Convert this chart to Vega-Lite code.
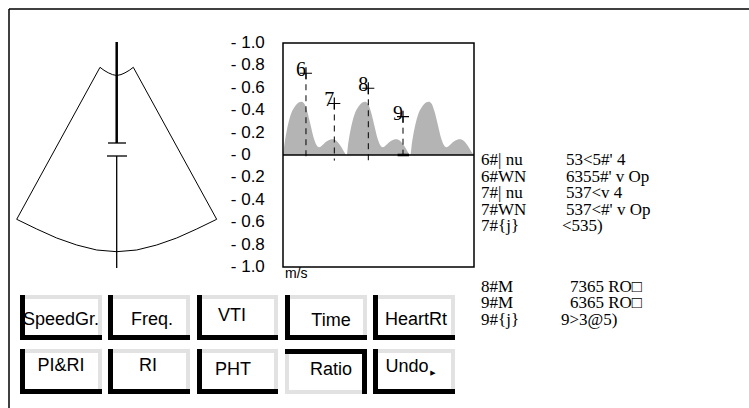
{
  "$schema": "https://vega.github.io/schema/vega-lite/v6.json",
  "width": 749,
  "height": 408,
  "autosize": {"type": "fit", "contains": "padding"},
  "padding": 0,
  "background": "white",
  "config": {"view": {"stroke": null}, "font": "Liberation Sans"},
  "datasets": {
    "frame": [{"x": 9, "y": 9, "x2": 749, "y2": 9}, {"x": 9, "y": 9, "x2": 9, "y2": 408}],
    "fan": [
      {"o": 1, "x": 100, "y": 67.3}, {"o": 2, "x": 104, "y": 70.3}, {"o": 3, "x": 108.3, "y": 72.8}, {"o": 4, "x": 112.5, "y": 74.6}, {"o": 5, "x": 116.7, "y": 75.5}, {"o": 6, "x": 121, "y": 74.6}, {"o": 7, "x": 125, "y": 72.8}, {"o": 8, "x": 129.3, "y": 70.3}, {"o": 9, "x": 133.3, "y": 67.3},
      {"o": 10, "x": 216.7, "y": 219.3}, {"o": 11, "x": 196.7, "y": 229}, {"o": 12, "x": 176.7, "y": 238}, {"o": 13, "x": 156.7, "y": 245}, {"o": 14, "x": 136.7, "y": 250}, {"o": 15, "x": 116.7, "y": 251.7}, {"o": 16, "x": 96.7, "y": 250}, {"o": 17, "x": 76.7, "y": 245}, {"o": 18, "x": 56.7, "y": 238}, {"o": 19, "x": 36.7, "y": 229}, {"o": 20, "x": 16.7, "y": 219.3}, {"o": 21, "x": 100, "y": 67.3}
    ],
    "probeThick": [{"x": 116.7, "y": 42, "x2": 116.7, "y2": 143}],
    "probeThin": [{"x": 116.7, "y": 156, "x2": 116.7, "y2": 268}, {"x": 108, "y": 143, "x2": 126, "y2": 143}, {"x": 107, "y": 156, "x2": 127, "y2": 156}],
    "btnGray": [
      {"x": 20, "x2": 102, "y": 295, "y2": 340}, {"x": 108, "x2": 190, "y": 295, "y2": 340}, {"x": 197, "x2": 278, "y": 295, "y2": 340}, {"x": 285, "x2": 367, "y": 295, "y2": 340}, {"x": 373, "x2": 455, "y": 295, "y2": 340},
      {"x": 20, "x2": 102, "y": 349, "y2": 394}, {"x": 108, "x2": 190, "y": 349, "y2": 394}, {"x": 197, "x2": 278, "y": 349, "y2": 394}, {"x": 285, "x2": 367, "y": 349, "y2": 394}, {"x": 373, "x2": 455, "y": 349, "y2": 394}
    ],
    "btnBlack": [
      {"x": 20, "x2": 25, "y": 295, "y2": 340}, {"x": 20, "x2": 102, "y": 335, "y2": 340},
      {"x": 108, "x2": 113, "y": 295, "y2": 340}, {"x": 108, "x2": 190, "y": 335, "y2": 340},
      {"x": 197, "x2": 202, "y": 295, "y2": 340}, {"x": 197, "x2": 278, "y": 335, "y2": 340},
      {"x": 285, "x2": 290, "y": 295, "y2": 340}, {"x": 285, "x2": 367, "y": 335, "y2": 340},
      {"x": 373, "x2": 378, "y": 295, "y2": 340}, {"x": 373, "x2": 455, "y": 335, "y2": 340},
      {"x": 20, "x2": 25, "y": 349, "y2": 394}, {"x": 20, "x2": 102, "y": 389, "y2": 394},
      {"x": 108, "x2": 113, "y": 349, "y2": 394}, {"x": 108, "x2": 190, "y": 389, "y2": 394},
      {"x": 197, "x2": 202, "y": 349, "y2": 394}, {"x": 197, "x2": 278, "y": 389, "y2": 394},
      {"x": 285, "x2": 367, "y": 349, "y2": 354}, {"x": 362, "x2": 367, "y": 349, "y2": 394},
      {"x": 373, "x2": 378, "y": 349, "y2": 394}, {"x": 373, "x2": 455, "y": 389, "y2": 394}
    ],
    "btnWhite": [
      {"x": 25, "x2": 98, "y": 299, "y2": 335}, {"x": 113, "x2": 186, "y": 299, "y2": 335}, {"x": 202, "x2": 274, "y": 299, "y2": 335}, {"x": 290, "x2": 363, "y": 299, "y2": 335}, {"x": 378, "x2": 451, "y": 299, "y2": 335},
      {"x": 25, "x2": 98, "y": 353, "y2": 389}, {"x": 113, "x2": 186, "y": 353, "y2": 389}, {"x": 202, "x2": 274, "y": 353, "y2": 389}, {"x": 289, "x2": 362, "y": 354, "y2": 390}, {"x": 378, "x2": 451, "y": 353, "y2": 389}
    ],
    "btnLabels": [
      {"x": 61, "y": 320, "label": "SpeedGr."}, {"x": 152, "y": 320, "label": "Freq."}, {"x": 232, "y": 316, "label": "VTI"}, {"x": 331, "y": 321, "label": "Time"}, {"x": 416, "y": 320, "label": "HeartRt"},
      {"x": 61, "y": 366, "label": "PI&RI"}, {"x": 148, "y": 366, "label": "RI"}, {"x": 233, "y": 370, "label": "PHT"}, {"x": 331, "y": 370, "label": "Ratio"}, {"x": 407, "y": 367, "label": "Undo"}
    ],
    "arrow": [{"x": 433, "y": 373, "label": "▶"}],
    "report": [
      {"x": 481, "y": 160, "label": "6#| nu"}, {"x": 566, "y": 160, "label": "53<5#' 4"},
      {"x": 481, "y": 177, "label": "6#WN"}, {"x": 566, "y": 177, "label": "6355#' v Op"},
      {"x": 481, "y": 193, "label": "7#| nu"}, {"x": 566, "y": 193, "label": "537<v 4"},
      {"x": 481, "y": 210, "label": "7#WN"}, {"x": 566, "y": 210, "label": "537<#' v Op"},
      {"x": 481, "y": 226, "label": "7#{j}"}, {"x": 562, "y": 226, "label": "<535)"},
      {"x": 481, "y": 287, "label": "8#M"}, {"x": 570, "y": 287, "label": "7365 RO□"},
      {"x": 481, "y": 303, "label": "9#M"}, {"x": 570, "y": 303, "label": "6365 RO□"},
      {"x": 481, "y": 320, "label": "9#{j}"}, {"x": 561, "y": 320, "label": "9>3@5)"}
    ],
    "wave": [
      {"t": 0, "v": 0}, {"t": 0.026, "v": 0.11}, {"t": 0.063, "v": 0.23}, {"t": 0.116, "v": 0.35}, {"t": 0.184, "v": 0.43}, {"t": 0.253, "v": 0.47}, {"t": 0.289, "v": 0.475}, {"t": 0.332, "v": 0.46}, {"t": 0.379, "v": 0.39}, {"t": 0.432, "v": 0.27}, {"t": 0.484, "v": 0.15}, {"t": 0.526, "v": 0.09}, {"t": 0.568, "v": 0.07}, {"t": 0.621, "v": 0.09}, {"t": 0.695, "v": 0.125}, {"t": 0.779, "v": 0.14}, {"t": 0.842, "v": 0.125}, {"t": 0.905, "v": 0.08}, {"t": 0.958, "v": 0.03},
      {"t": 1, "v": 0}, {"t": 1.026, "v": 0.11}, {"t": 1.063, "v": 0.23}, {"t": 1.116, "v": 0.35}, {"t": 1.184, "v": 0.43}, {"t": 1.253, "v": 0.47}, {"t": 1.289, "v": 0.475}, {"t": 1.332, "v": 0.46}, {"t": 1.379, "v": 0.39}, {"t": 1.432, "v": 0.27}, {"t": 1.484, "v": 0.15}, {"t": 1.526, "v": 0.09}, {"t": 1.568, "v": 0.07}, {"t": 1.621, "v": 0.09}, {"t": 1.695, "v": 0.125}, {"t": 1.779, "v": 0.14}, {"t": 1.842, "v": 0.125}, {"t": 1.905, "v": 0.08}, {"t": 1.958, "v": 0.03},
      {"t": 2, "v": 0}, {"t": 2.026, "v": 0.11}, {"t": 2.063, "v": 0.23}, {"t": 2.116, "v": 0.35}, {"t": 2.184, "v": 0.43}, {"t": 2.253, "v": 0.47}, {"t": 2.289, "v": 0.475}, {"t": 2.332, "v": 0.46}, {"t": 2.379, "v": 0.39}, {"t": 2.432, "v": 0.27}, {"t": 2.484, "v": 0.15}, {"t": 2.526, "v": 0.09}, {"t": 2.568, "v": 0.07}, {"t": 2.621, "v": 0.09}, {"t": 2.695, "v": 0.125}, {"t": 2.779, "v": 0.14}, {"t": 2.842, "v": 0.125}, {"t": 2.905, "v": 0.08}, {"t": 2.958, "v": 0.03}, {"t": 3, "v": 0}
    ],
    "box": [{"t": 0, "t2": 3, "v": -1, "v2": 1}],
    "zero": [{"t": 0, "t2": 3, "v": 0}],
    "zeroMark": [{"t": 1.80, "t2": 1.98, "v": 0}],
    "markers": [
      {"id": "6", "t": 0.361, "v": 0.73, "vEnd": -0.05},
      {"id": "7", "t": 0.806, "v": 0.46, "vEnd": -0.05},
      {"id": "8", "t": 1.34, "v": 0.596, "vEnd": -0.06},
      {"id": "9", "t": 1.885, "v": 0.342, "vEnd": 0}
    ],
    "ticks": [
      {"v": 1, "label": "- 1.0"}, {"v": 0.8, "label": "- 0.8"}, {"v": 0.6, "label": "- 0.6"}, {"v": 0.4, "label": "- 0.4"}, {"v": 0.2, "label": "- 0.2"}, {"v": 0, "label": "- 0"},
      {"v": -0.2, "label": "- 0.2"}, {"v": -0.4, "label": "- 0.4"}, {"v": -0.6, "label": "- 0.6"}, {"v": -0.8, "label": "- 0.8"}, {"v": -1, "label": "- 1.0"}
    ],
    "unit": [{"t": 0, "v": -1, "label": "m/s"}]
  },
  "resolve": {"scale": {"x": "independent", "y": "independent"}},
  "layer": [
    {
      "layer": [
        {
          "data": {"name": "frame"},
          "mark": {"type": "rule", "stroke": "black", "strokeWidth": 1.5},
          "encoding": {
            "x": {"field": "x", "type": "quantitative", "scale": {"domain": [0, 749], "range": [0, 749], "nice": false, "zero": false}, "axis": null},
            "y": {"field": "y", "type": "quantitative", "scale": {"domain": [0, 408], "range": [0, 408], "nice": false, "zero": false}, "axis": null},
            "x2": {"field": "x2"}, "y2": {"field": "y2"}
          }
        },
        {
          "data": {"name": "fan"},
          "mark": {"type": "line", "stroke": "black", "strokeWidth": 1},
          "encoding": {
            "x": {"field": "x", "type": "quantitative", "axis": null},
            "y": {"field": "y", "type": "quantitative", "axis": null},
            "order": {"field": "o", "type": "quantitative"}
          }
        },
        {
          "data": {"name": "probeThick"},
          "mark": {"type": "rule", "stroke": "black", "strokeWidth": 2.5},
          "encoding": {
            "x": {"field": "x", "type": "quantitative", "axis": null}, "y": {"field": "y", "type": "quantitative", "axis": null},
            "x2": {"field": "x2"}, "y2": {"field": "y2"}
          }
        },
        {
          "data": {"name": "probeThin"},
          "mark": {"type": "rule", "stroke": "black", "strokeWidth": 1.3},
          "encoding": {
            "x": {"field": "x", "type": "quantitative", "axis": null}, "y": {"field": "y", "type": "quantitative", "axis": null},
            "x2": {"field": "x2"}, "y2": {"field": "y2"}
          }
        },
        {
          "data": {"name": "btnGray"},
          "mark": {"type": "rect", "fill": "#e2e2e2"},
          "encoding": {
            "x": {"field": "x", "type": "quantitative", "axis": null}, "y": {"field": "y", "type": "quantitative", "axis": null},
            "x2": {"field": "x2"}, "y2": {"field": "y2"}
          }
        },
        {
          "data": {"name": "btnBlack"},
          "mark": {"type": "rect", "fill": "black"},
          "encoding": {
            "x": {"field": "x", "type": "quantitative", "axis": null}, "y": {"field": "y", "type": "quantitative", "axis": null},
            "x2": {"field": "x2"}, "y2": {"field": "y2"}
          }
        },
        {
          "data": {"name": "btnWhite"},
          "mark": {"type": "rect", "fill": "white"},
          "encoding": {
            "x": {"field": "x", "type": "quantitative", "axis": null}, "y": {"field": "y", "type": "quantitative", "axis": null},
            "x2": {"field": "x2"}, "y2": {"field": "y2"}
          }
        },
        {
          "data": {"name": "btnLabels"},
          "mark": {"type": "text", "font": "Liberation Sans", "fontSize": 18, "fill": "black", "align": "center", "baseline": "middle"},
          "encoding": {
            "x": {"field": "x", "type": "quantitative", "axis": null}, "y": {"field": "y", "type": "quantitative", "axis": null},
            "text": {"field": "label"}
          }
        },
        {
          "data": {"name": "arrow"},
          "mark": {"type": "text", "font": "DejaVu Sans", "fontSize": 7, "fill": "black", "align": "center", "baseline": "middle"},
          "encoding": {
            "x": {"field": "x", "type": "quantitative", "axis": null}, "y": {"field": "y", "type": "quantitative", "axis": null},
            "text": {"field": "label"}
          }
        },
        {
          "data": {"name": "report"},
          "mark": {"type": "text", "font": "Liberation Serif", "fontSize": 17, "fill": "black", "align": "left", "baseline": "middle"},
          "encoding": {
            "x": {"field": "x", "type": "quantitative", "axis": null}, "y": {"field": "y", "type": "quantitative", "axis": null},
            "text": {"field": "label"}
          }
        }
      ]
    },
    {
      "layer": [
        {
          "data": {"name": "wave"},
          "mark": {"type": "area", "fill": "#b4b4b4", "interpolate": "monotone"},
          "encoding": {
            "x": {"field": "t", "type": "quantitative", "scale": {"domain": [0, 3], "range": [283, 474], "nice": false, "zero": false}, "axis": null},
            "y": {"field": "v", "type": "quantitative", "scale": {"domain": [-1, 1], "range": [267, 43], "nice": false, "zero": false}, "axis": null},
            "y2": {"datum": 0}
          }
        },
        {
          "data": {"name": "box"},
          "mark": {"type": "rect", "filled": false, "stroke": "black", "strokeWidth": 1.5},
          "encoding": {
            "x": {"field": "t", "type": "quantitative", "axis": null}, "x2": {"field": "t2"},
            "y": {"field": "v", "type": "quantitative", "axis": null}, "y2": {"field": "v2"}
          }
        },
        {
          "data": {"name": "zero"},
          "mark": {"type": "rule", "stroke": "black", "strokeWidth": 1.5},
          "encoding": {
            "x": {"field": "t", "type": "quantitative", "axis": null}, "x2": {"field": "t2"},
            "y": {"field": "v", "type": "quantitative", "axis": null}
          }
        },
        {
          "data": {"name": "zeroMark"},
          "mark": {"type": "rule", "stroke": "black", "strokeWidth": 2.5},
          "encoding": {
            "x": {"field": "t", "type": "quantitative", "axis": null}, "x2": {"field": "t2"},
            "y": {"field": "v", "type": "quantitative", "axis": null}
          }
        },
        {
          "data": {"name": "markers"},
          "mark": {"type": "rule", "stroke": "black", "strokeWidth": 1, "strokeDash": [6, 5]},
          "encoding": {
            "x": {"field": "t", "type": "quantitative", "axis": null},
            "y": {"field": "v", "type": "quantitative", "axis": null}, "y2": {"field": "vEnd"}
          }
        },
        {
          "data": {"name": "markers"},
          "mark": {"type": "point", "shape": "M-1,0L1,0M0,-1L0,1", "size": 144, "filled": false, "stroke": "black", "strokeWidth": 1.2, "opacity": 1},
          "encoding": {
            "x": {"field": "t", "type": "quantitative", "axis": null},
            "y": {"field": "v", "type": "quantitative", "axis": null}
          }
        },
        {
          "data": {"name": "markers"},
          "mark": {"type": "text", "font": "Liberation Serif", "fontSize": 20, "fill": "black", "align": "right", "baseline": "middle", "dx": 0, "dy": -3},
          "encoding": {
            "x": {"field": "t", "type": "quantitative", "axis": null},
            "y": {"field": "v", "type": "quantitative", "axis": null},
            "text": {"field": "id"}
          }
        },
        {
          "data": {"name": "ticks"},
          "mark": {"type": "text", "font": "Liberation Sans", "fontSize": 17, "fill": "black", "align": "left", "baseline": "middle"},
          "encoding": {
            "x": {"datum": -0.82, "type": "quantitative", "axis": null},
            "y": {"field": "v", "type": "quantitative", "axis": null},
            "text": {"field": "label"}
          }
        },
        {
          "data": {"name": "unit"},
          "mark": {"type": "text", "font": "Liberation Sans", "fontSize": 14, "fill": "black", "align": "left", "baseline": "top", "dx": 2, "dy": 0},
          "encoding": {
            "x": {"field": "t", "type": "quantitative", "axis": null},
            "y": {"field": "v", "type": "quantitative", "axis": null},
            "text": {"field": "label"}
          }
        }
      ]
    }
  ]
}
